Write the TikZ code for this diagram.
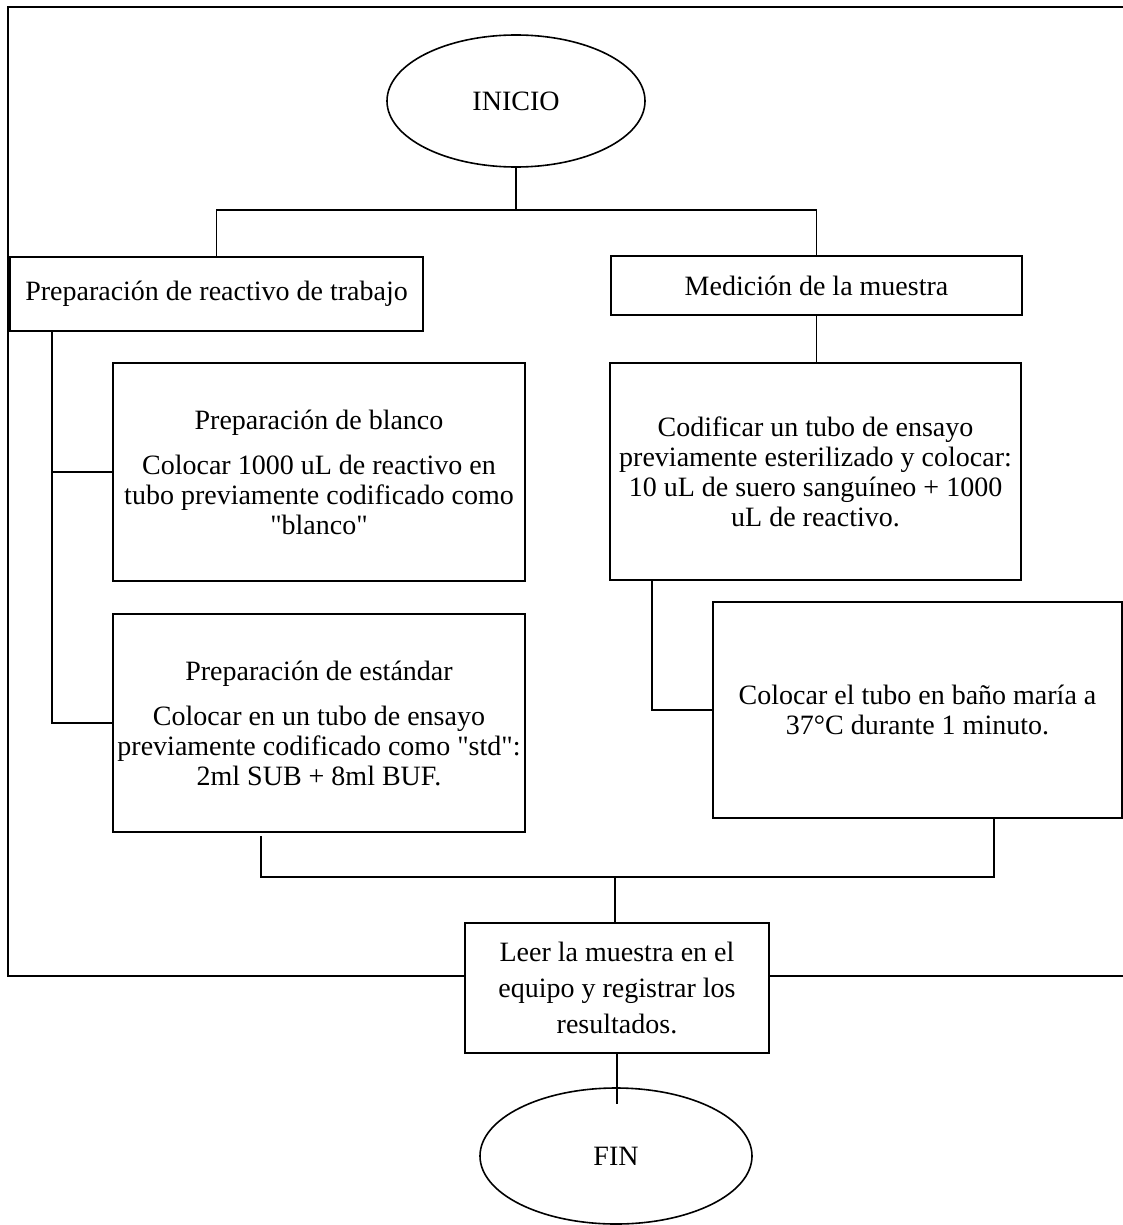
\documentclass[tikz,border=0pt]{standalone}
\usepackage{fontspec}
\setmainfont{Liberation Serif}
\usetikzlibrary{shapes.geometric,calc,positioning}

\begin{document}
\begin{tikzpicture}[x=1pt,y=-1pt,
  procbox/.style={draw,line width=1.8pt,fill=white,align=center,inner sep=0pt,font=\fontsize{28}{30}\selectfont},
  termnode/.style={draw,ellipse,line width=1.6pt,fill=white,inner sep=0pt,font=\fontsize{28}{30}\selectfont},
  conn/.style={line width=1.2pt}]
  \useasboundingbox (0,0) rectangle (1123,1225);
  \clip (0,0) rectangle (1123,1225);
  % outer frame
  \draw[line width=1.8pt] (1140,7) -- (8,7) -- (8,976) -- (1140,976);
  % terminals
  \node[termnode,minimum width=258,minimum height=132] (inicio) at (516,101) {INICIO};
  \node[termnode,minimum width=272,minimum height=136] (fin) at (616,1156) {FIN};
  % boxes
  \node[procbox,minimum width=413,minimum height=74] (prep) at (216.5,294) {Preparación de reactivo de trabajo};
  \node[procbox,minimum width=411,minimum height=59] (medicion) at (816.5,285.5) {Medición de la muestra};
  \node[procbox,minimum width=412,minimum height=218] (blanco) at (319,472)
    {Preparación de blanco\\[15pt]Colocar 1000 uL de reactivo en\\tubo previamente codificado como\\\textquotedbl blanco\textquotedbl};
  \node[procbox,minimum width=412,minimum height=218] (estandar) at (319,723)
    {Preparación de estándar\\[15pt]Colocar en un tubo de ensayo\\previamente codificado como \textquotedbl std\textquotedbl:\\2ml SUB + 8ml BUF.};
  \node[procbox,minimum width=411,minimum height=217] (codificar) at (815.5,471.5)
    {Codificar un tubo de ensayo\\previamente esterilizado y colocar:\\10 uL de suero sanguíneo + 1000\\uL de reactivo.};
  \node[procbox,minimum width=409,minimum height=216] (colocar) at (917.5,710)
    {Colocar el tubo en baño maría a\\37°C durante 1 minuto.};
  \node[procbox,minimum width=304,minimum height=130,font=\fontsize{28}{36}\selectfont] (leer) at (617,988)
    {Leer la muestra en el\\equipo y registrar los\\resultados.};
  % connectors
  \coordinate (split) at (516,210);
  \coordinate (spine) at (52,331);
  \coordinate (drop) at (652,580);
  \coordinate (jl) at (261,836);
  \coordinate (jr) at (994,818);
  \coordinate (join) at (615,877);
  \draw[conn] (inicio.south) -- (split);
  \draw[conn] (prep.north) |- (split) -| (medicion.north);
  \draw[conn] (medicion.south) -- (medicion.south |- codificar.north);
  \draw[conn] (spine) |- (estandar.west);
  \draw[conn] (spine |- blanco.west) -- (blanco.west);
  \draw[conn] (drop) |- (colocar.west);
  \draw[conn] (jl) |- (join) -| (jr);
  \draw[conn] (join) -- (join |- leer.north);
  \draw[conn] (leer.south) -- ++(0,50);
\end{tikzpicture}
\end{document}
